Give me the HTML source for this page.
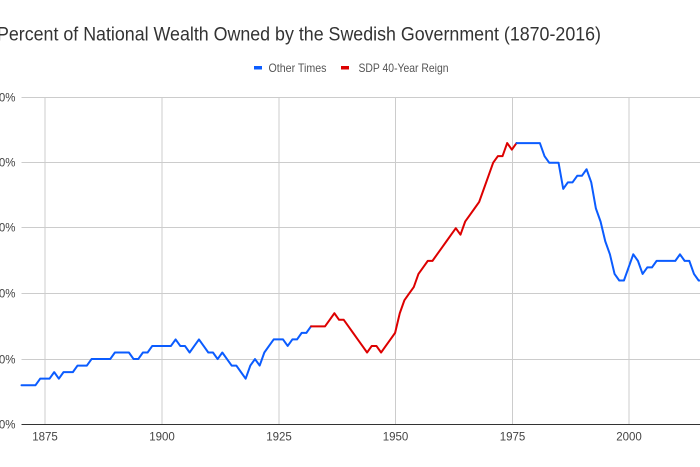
<!DOCTYPE html>
<html>
<head>
<meta charset="utf-8">
<style>
html,body{margin:0;padding:0;background:#fff;}
body{width:700px;height:467px;overflow:hidden;}
svg{display:block;}
text{font-family:"Liberation Sans",Arial,sans-serif;}
</style>
</head>
<body>
<svg width="700" height="467" viewBox="0 0 700 467" xmlns="http://www.w3.org/2000/svg">
<rect width="700" height="467" fill="#fff"/>
<!-- Title -->
<text x="-3" y="40.5" font-size="19" fill="#333" textLength="604" lengthAdjust="spacingAndGlyphs">Percent of National Wealth Owned by the Swedish Government (1870-2016)</text>
<!-- Legend -->
<rect x="254" y="66" width="8" height="3.5" fill="#0b5cff"/>
<text x="268.5" y="72" font-size="12" fill="#555" textLength="58" lengthAdjust="spacingAndGlyphs">Other Times</text>
<rect x="341" y="66" width="8" height="3.5" fill="#dd0000"/>
<text x="358.5" y="72" font-size="12" fill="#555" textLength="90" lengthAdjust="spacingAndGlyphs">SDP 40-Year Reign</text>

<!-- Horizontal gridlines -->
<g stroke="#cccccc" stroke-width="1">
<line x1="21.5" y1="97.5" x2="700" y2="97.5"/>
<line x1="21.5" y1="162.5" x2="700" y2="162.5"/>
<line x1="21.5" y1="227.5" x2="700" y2="227.5"/>
<line x1="21.5" y1="293.5" x2="700" y2="293.5"/>
<line x1="21.5" y1="359.5" x2="700" y2="359.5"/>
<!-- Vertical gridlines -->
<line x1="45" y1="97" x2="45" y2="424"/>
<line x1="162" y1="97" x2="162" y2="424"/>
<line x1="279" y1="97" x2="279" y2="424"/>
<line x1="395.5" y1="97" x2="395.5" y2="424"/>
<line x1="512.5" y1="97" x2="512.5" y2="424"/>
<line x1="629" y1="97" x2="629" y2="424"/>
</g>
<!-- Baseline -->
<line x1="21.5" y1="424.5" x2="700" y2="424.5" stroke="#333" stroke-width="1"/>

<!-- Y labels -->
<g font-size="11.5" fill="#444" text-anchor="end">
<text x="15.5" y="101.5">50%</text>
<text x="15.5" y="166.5">40%</text>
<text x="15.5" y="231.5">30%</text>
<text x="15.5" y="297.5">20%</text>
<text x="15.5" y="363.5">10%</text>
<text x="15.5" y="428.5">0%</text>
</g>
<!-- X labels -->
<g font-size="11.5" fill="#444" text-anchor="middle">
<text x="45" y="440.5">1875</text>
<text x="162" y="440.5">1900</text>
<text x="279" y="440.5">1925</text>
<text x="395.5" y="440.5">1950</text>
<text x="512.5" y="440.5">1975</text>
<text x="629" y="440.5">2000</text>
</g>

<!-- Series -->
<g transform="translate(21.5,424.5) scale(4.67,-6.545)" fill="none" stroke-linejoin="round" stroke-linecap="round">
<polyline vector-effect="non-scaling-stroke" stroke="#0b5cff" stroke-width="2" points="0,6 1,6 2,6 3,6 4,7 5,7 6,7 7,8 8,7 9,8 10,8 11,8 12,9 13,9 14,9 15,10 16,10 17,10 18,10 19,10 20,11 21,11 22,11 23,11 24,10 25,10 26,11 27,11 28,12 29,12 30,12 31,12 32,12 33,13 34,12 35,12 36,11 37,12 38,13 39,12 40,11 41,11 42,10 43,11 44,10 45,9 46,9 47,8 48,7 49,9 50,10 51,9 52,11 53,12 54,13 55,13 56,13 57,12 58,13 59,13 60,14 61,14 62,15"/>
<polyline vector-effect="non-scaling-stroke" stroke="#dd0000" stroke-width="2" points="62,15 63,15 64,15 65,15 66,16 67,17 68,16 69,16 70,15 71,14 72,13 73,12 74,11 75,12 76,12 77,11 78,12 79,13 80,14 81,17 82,19 83,20 84,21 85,23 86,24 87,25 88,25 89,26 90,27 91,28 92,29 93,30 94,29 95,31 96,32 97,33 98,34 99,36 100,38 101,40 102,41 103,41 104,43 105,42 106,43"/>
<polyline vector-effect="non-scaling-stroke" stroke="#0b5cff" stroke-width="2" points="106,43 107,43 108,43 109,43 110,43 111,43 112,41 113,40 114,40 115,40 116,36 117,37 118,37 119,38 120,38 121,39 122,37 123,33 124,31 125,28 126,26 127,23 128,22 129,22 130,24 131,26 132,25 133,23 134,24 135,24 136,25 137,25 138,25 139,25 140,25 141,26 142,25 143,25 144,23 145,22 146,22"/>
</g>
</svg>
</body>
</html>
